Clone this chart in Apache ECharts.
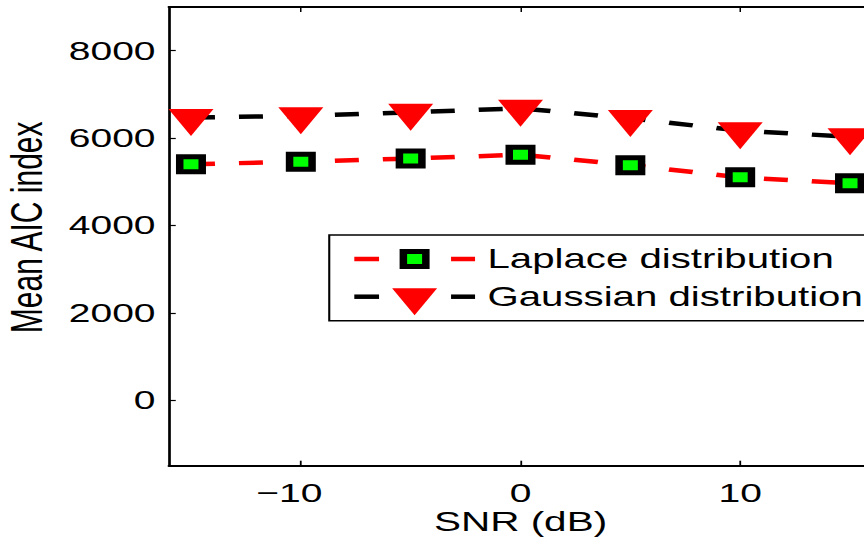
<!DOCTYPE html>
<html><head><meta charset="utf-8">
<script src="https://cdn.jsdelivr.net/npm/echarts@6/dist/echarts.min.js"></script>
<style>
html,body{margin:0;padding:0;overflow:hidden;background:#fff;width:864px;height:542px}
#wrap{width:864px;height:542px;overflow:hidden;position:relative;background:#fff}
#chart{width:576px;height:542px;transform:scaleX(1.5);transform-origin:0 0;}
</style></head><body><div id="wrap"><div id="chart"></div></div>
<script>
// ---- data ----
const snr = [-15, -10, -5, 0, 5, 10, 15];
const laplace = [5400, 5460, 5530, 5620, 5380, 5100, 4965];
const gaussian = [6470, 6510, 6590, 6680, 6450, 6170, 6030];
const xTickValues = [-10, 0, 10];
const yTickValues = [0, 2000, 4000, 6000, 8000];
const seriesNames = ['Laplace distribution', 'Gaussian distribution'];
const xName = 'SNR (dB)';
const yName = 'Mean AIC index';

// ---- chart ----
const FONT = 'Liberation Sans, Arial, Helvetica, sans-serif';
const chart = echarts.init(document.getElementById('chart'), null, {renderer: 'svg'});

function pairs(xs, ys) { return xs.map((x, i) => [x, ys[i]]); }

const tri = 'path://M0,0L30,0L15,27Z';

// legend geometry (unscaled px)
const LX = 219.5, LY = 235, LW = 380, LH = 85.7;
const rows = [259, 296.7];
const dashA = [236.2, 252.7], dashB = [300.7, 316.7];
const mx = 276.4;

const legendGraphic = {
  type: 'group', z: 100, children: [
    {type: 'rect', shape: {x: LX, y: LY, width: LW, height: LH},
     style: {fill: '#fff', stroke: '#000', lineWidth: 1.4}},
    // Laplace row
    {type: 'line', shape: {x1: dashA[0], y1: rows[0], x2: dashA[1], y2: rows[0]}, style: {stroke: '#ff0000', lineWidth: 4.5}},
    {type: 'line', shape: {x1: dashB[0], y1: rows[0], x2: dashB[1], y2: rows[0]}, style: {stroke: '#ff0000', lineWidth: 4.5}},
    {type: 'rect', shape: {x: mx - 7.5, y: rows[0] - 7.5, width: 15, height: 15},
     style: {fill: '#00ff00', stroke: '#000', lineWidth: 5}},
    {type: 'text', x: 325, y: rows[0], style: {text: seriesNames[0], fontSize: 26.8, fontFamily: FONT, fill: '#000', verticalAlign: 'middle', align: 'left'}},
    // Gaussian row
    {type: 'line', shape: {x1: dashA[0], y1: rows[1], x2: dashA[1], y2: rows[1]}, style: {stroke: '#000', lineWidth: 4.5}},
    {type: 'line', shape: {x1: dashB[0], y1: rows[1], x2: dashB[1], y2: rows[1]}, style: {stroke: '#000', lineWidth: 4.5}},
    {type: 'polygon', shape: {points: [[mx - 15, rows[1] - 8.5], [mx + 15, rows[1] - 8.5], [mx, rows[1] + 18.5]]},
     style: {fill: '#ff0000'}},
    {type: 'text', x: 325, y: rows[1], style: {text: seriesNames[1], fontSize: 26.8, fontFamily: FONT, fill: '#000', verticalAlign: 'middle', align: 'left'}}
  ]
};

const option = {
  animation: false,
  backgroundColor: '#fff',
  textStyle: {fontFamily: FONT},
  grid: {left: 112.67, right: -5.33, top: 7, bottom: 76.3, containLabel: false, outerBoundsMode: 'none'},
  xAxis: [
    {
      type: 'value', min: -16, max: 16, position: 'bottom',
      name: xName, nameLocation: 'middle', nameGap: 42, nameMoveOverlap: false,
      nameTextStyle: {fontSize: 27, color: '#000', fontFamily: FONT},
      axisLine: {show: true, onZero: false, lineStyle: {color: '#000', width: 2}},
      axisTick: {show: true, inside: true, length: 5, customValues: xTickValues, lineStyle: {color: '#000', width: 1.2}},
      axisLabel: {
        show: true, margin: 14, color: '#000', fontSize: 26, fontFamily: FONT,
        customValues: xTickValues,
        formatter: v => v < 0 ? '\u2212' + Math.abs(v) + '{s|\u00a0}' : String(v),
        rich: {s: {width: 15.2, fontSize: 26}}
      },
      splitLine: {show: false}
    },
    {
      type: 'value', min: -16, max: 16, position: 'top',
      axisLine: {show: true, onZero: false, lineStyle: {color: '#000', width: 2}},
      axisTick: {show: true, inside: true, length: 5, customValues: xTickValues, lineStyle: {color: '#000', width: 1}},
      axisLabel: {show: false},
      splitLine: {show: false}
    }
  ],
  yAxis: {
    type: 'value', min: -1500, max: 9000,
    name: yName, nameLocation: 'middle', nameGap: 80, nameMoveOverlap: false,
    nameTextStyle: {fontSize: 30, color: '#000', fontFamily: FONT, padding: [0, 0, 0, 18]},
    axisLine: {show: true, onZero: false, lineStyle: {color: '#000', width: 1.8}},
    axisTick: {show: true, inside: true, length: 4.5, customValues: yTickValues, lineStyle: {color: '#000', width: 1.2}},
    axisLabel: {show: true, margin: 9, color: '#000', fontSize: 26, fontFamily: FONT, customValues: yTickValues,
      formatter: v => String(v)},
    splitLine: {show: false}
  },
  series: [
    {
      name: seriesNames[0], type: 'line', data: pairs(snr, laplace),
      symbol: 'rect', symbolSize: 15,
      itemStyle: {color: '#00ff00', borderColor: '#000', borderWidth: 5},
      lineStyle: {color: '#ff0000', width: 4.5, type: [16, 16]},
      emphasis: {disabled: true}, z: 3
    },
    {
      name: seriesNames[1], type: 'line', data: pairs(snr, gaussian),
      symbol: tri, symbolSize: [30, 27], symbolKeepAspect: false, symbolOffset: [0, 5],
      itemStyle: {color: '#ff0000', borderWidth: 0},
      lineStyle: {color: '#000', width: 4.5, type: [16, 16]},
      emphasis: {disabled: true}, z: 4
    }
  ],
  graphic: [legendGraphic]
};
chart.setOption(option);
</script></body></html>
